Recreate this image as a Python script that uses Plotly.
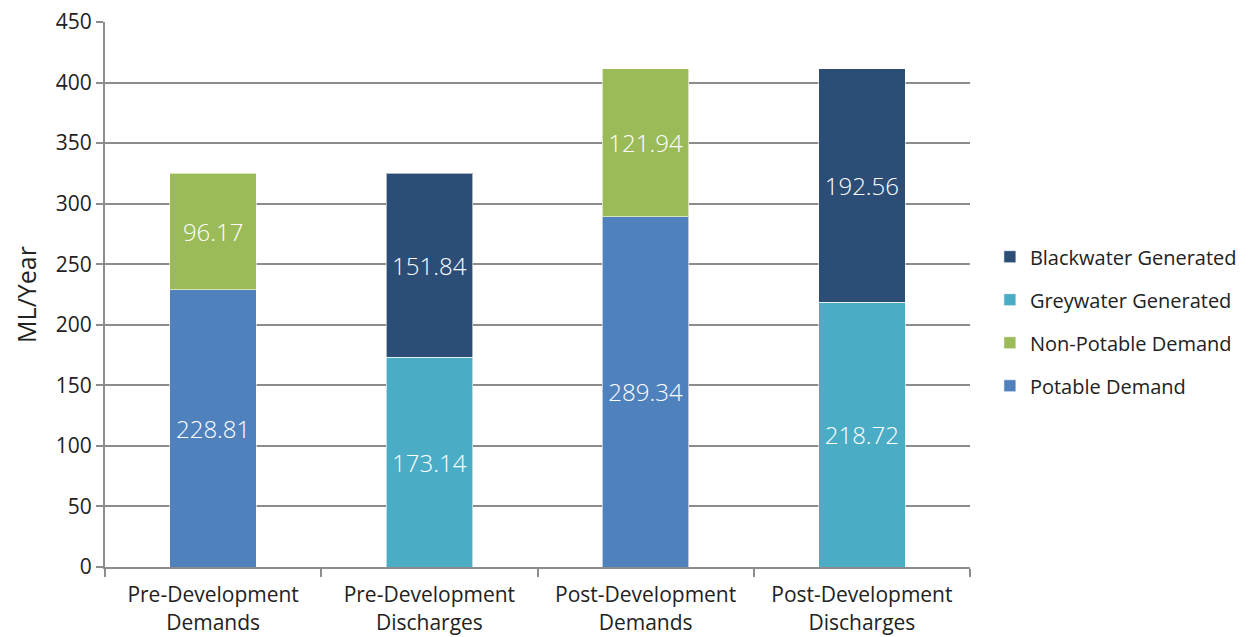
import plotly.graph_objects as go

categories = [
    "Pre-Development<br>Demands",
    "Pre-Development<br>Discharges",
    "Post-Development<br>Demands",
    "Post-Development<br>Discharges",
]
potable = [228.81, None, 289.34, None]
non_potable = [96.17, None, 121.94, None]
greywater = [None, 173.14, None, 218.72]
blackwater = [None, 151.84, None, 192.56]

FONT = "'Open Sans', Roboto, sans-serif"
GRID = "#8c8c8c"

# (name, values, colour, legend rank) - stacking follows list order, legend is top-down
series = [
    ("Potable Demand", potable, "#4F81BD", 4),
    ("Non-Potable Demand", non_potable, "#9BBB59", 3),
    ("Greywater Generated", greywater, "#4BACC6", 2),
    ("Blackwater Generated", blackwater, "#2C4D75", 1),
]

fig = go.Figure()
for name, values, color, rank in series:
    fig.add_trace(go.Bar(
        x=categories, y=values, name=name, legendgroup=name, legendrank=rank,
        marker=dict(color=color, line=dict(color="rgba(255,255,255,0.6)", width=1)),
        text=[f"{v:.2f}" if v is not None else "" for v in values],
        textposition="inside", insidetextanchor="middle", textangle=0,
        constraintext="none",
        textfont=dict(color="white", size=24, family=FONT, weight=300),
    ))

fig.update_layout(
    barmode="stack", bargap=0.6,
    width=1259, height=637,
    margin=dict(l=97, r=297, t=14, b=78, autoexpand=False),
    plot_bgcolor="white", paper_bgcolor="white",
    font=dict(family=FONT, color="#222222", size=20),
    legend=dict(
        traceorder="grouped", tracegroupgap=14,
        x=1.023, y=0.451, xanchor="left", yanchor="middle",
        font=dict(size=20, family=FONT),
    ),
    xaxis=dict(
        showline=True, linecolor=GRID, linewidth=2, automargin=False,
        ticks="outside", tickson="boundaries", ticklen=8, tickcolor=GRID, tickwidth=2,
        tickfont=dict(size=21), ticklabelstandoff=8,
    ),
    yaxis=dict(
        range=[0, 450], dtick=50, automargin=False, ticklabeloverflow="allow",
        showline=True, linecolor=GRID, linewidth=2,
        showgrid=True, gridcolor=GRID, gridwidth=1.5,
        ticks="outside", ticklen=7, tickcolor=GRID, tickwidth=1.5,
        tickfont=dict(size=21), zeroline=False,
        title=dict(text="ML/Year", font=dict(size=25), standoff=12),
    ),
)

fig.write_html("out.html")
